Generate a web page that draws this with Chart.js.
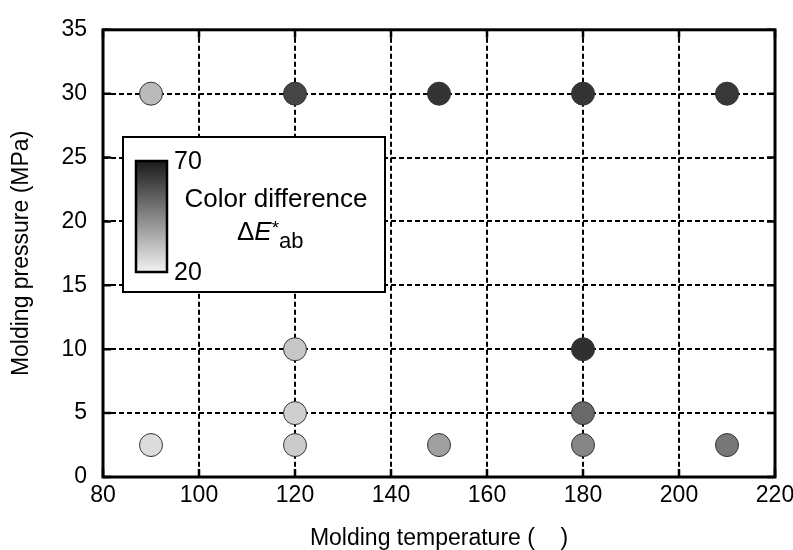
<!DOCTYPE html>
<html>
<head>
<meta charset="utf-8">
<script src="https://cdn.jsdelivr.net/npm/chart.js@4/dist/chart.umd.min.js"></script>
<style>
  html, body { margin: 0; padding: 0; background: #fff; }
  #wrap { width: 793px; height: 550px; }
</style>
</head>
<body>
<div id="wrap"><canvas id="chart" width="793" height="550"></canvas></div>
<script>
// molding conditions and measured colour difference
const temperatures = [90, 120, 150, 180, 210, 120, 180, 120, 180, 90, 120, 150, 180, 210];
const pressures    = [30, 30, 30, 30, 30, 10, 10, 5, 5, 2.5, 2.5, 2.5, 2.5, 2.5];
const colorDiff    = [33, 60, 64, 64, 63, 30, 65, 28, 51.5, 25, 29, 39, 45, 48.5];

const xTicks = [80, 100, 120, 140, 160, 180, 200, 220];
const yTicks = [0, 5, 10, 15, 20, 25, 30, 35];
const scaleMin = 20;
const scaleMax = 70;

const FONT = 'Arial, "Liberation Sans", sans-serif';

// grey level for a colour difference value (light = small, dark = large)
function greyFor(v) {
  const t = Math.max(0, Math.min(1, (v - scaleMin) / (scaleMax - scaleMin)));
  const g = Math.round(242 - t * 216);
  return `rgb(${g},${g},${g})`;
}

const points = temperatures.map((t, i) => ({ x: t, y: pressures[i] }));

// frame, inner ticks and the colour scale box
const framePlugin = {
  id: 'frame',
  afterDraw(chart) {
    const { ctx, chartArea: a, scales } = chart;
    ctx.save();
    ctx.strokeStyle = '#000';
    ctx.lineWidth = 2.5;
    ctx.beginPath();
    yTicks.forEach(v => {
      const y = scales.y.getPixelForValue(v);
      ctx.moveTo(a.left, y); ctx.lineTo(a.left + 8, y);
      ctx.moveTo(a.right, y); ctx.lineTo(a.right - 8, y);
    });
    xTicks.forEach(v => {
      const x = scales.x.getPixelForValue(v);
      ctx.moveTo(x, a.bottom); ctx.lineTo(x, a.bottom - 8);
      ctx.moveTo(x, a.top); ctx.lineTo(x, a.top + 8);
    });
    ctx.stroke();

    ctx.lineWidth = 3;
    ctx.strokeRect(a.left, a.top, a.right - a.left, a.bottom - a.top);

    // colour scale box
    const bx = 123, by = 137, bw = 262, bh = 155;
    ctx.fillStyle = '#fff';
    ctx.fillRect(bx, by, bw, bh);
    ctx.lineWidth = 2;
    ctx.strokeRect(bx, by, bw, bh);

    const gx = 136, gy = 161, gw = 31, gh = 111;
    const grad = ctx.createLinearGradient(0, gy, 0, gy + gh);
    grad.addColorStop(0, greyFor(scaleMax));
    grad.addColorStop(1, greyFor(scaleMin));
    ctx.fillStyle = grad;
    ctx.fillRect(gx, gy, gw, gh);
    ctx.lineWidth = 2.5;
    ctx.strokeRect(gx, gy, gw, gh);

    ctx.fillStyle = '#000';
    ctx.textBaseline = 'alphabetic';
    ctx.textAlign = 'left';
    ctx.font = `25px ${FONT}`;
    ctx.fillText(String(scaleMax), 174, 169);
    ctx.fillText(String(scaleMin), 174, 280);

    ctx.font = `26px ${FONT}`;
    ctx.textAlign = 'center';
    ctx.fillText('Color difference', 276, 207);

    // ΔE*ab
    ctx.textAlign = 'left';
    let x = 237;
    ctx.font = `26px ${FONT}`;
    ctx.fillText('\u0394', x, 240);
    x += ctx.measureText('\u0394').width;
    ctx.font = `italic 26px ${FONT}`;
    ctx.fillText('E', x, 240);
    x += ctx.measureText('E').width;
    ctx.font = `19px ${FONT}`;
    ctx.fillText('*', x, 234);
    x += ctx.measureText('*').width;
    ctx.font = `22px ${FONT}`;
    ctx.fillText('ab', x, 248);
    ctx.restore();
  }
};

new Chart(document.getElementById('chart'), {
  type: 'scatter',
  data: {
    datasets: [{
      data: points,
      pointRadius: 11.5,
      pointHoverRadius: 11.5,
      pointBackgroundColor: colorDiff.map(greyFor),
      pointBorderColor: '#333',
      pointBorderWidth: 1
    }]
  },
  options: {
    responsive: false,
    animation: false,
    events: [],
    layout: { padding: { top: 29, right: 18, bottom: 0, left: 0 } },
    plugins: {
      legend: { display: false },
      tooltip: { enabled: false }
    },
    scales: {
      x: {
        type: 'linear',
        min: 80,
        max: 220,
        afterBuildTicks: s => { s.ticks = xTicks.map(v => ({ value: v })); },
        afterFit: s => { s.height = 73; s.paddingLeft = 0; s.paddingRight = 0; },
        ticks: { color: '#000', font: { family: FONT, size: 23 }, padding: 5, maxRotation: 0 },
        grid: { color: '#000', lineWidth: 2, drawTicks: false },
        border: { display: false, dash: [5, 3] },
        title: {
          display: true,
          text: 'Molding temperature (    )',
          color: '#000',
          font: { family: FONT, size: 23 },
          padding: { top: 0, bottom: -2 }
        }
      },
      y: {
        type: 'linear',
        min: 0,
        max: 35,
        afterBuildTicks: s => { s.ticks = yTicks.map(v => ({ value: v })); },
        afterFit: s => { s.width = 103; },
        ticks: { color: '#000', font: { family: FONT, size: 23 }, padding: 16 },
        grid: { color: '#000', lineWidth: 2, drawTicks: false },
        border: { display: false, dash: [5, 3] },
        title: {
          display: true,
          text: 'Molding pressure (MPa)',
          color: '#000',
          font: { family: FONT, size: 23 },
          padding: { top: 8, bottom: 0 }
        }
      }
    }
  },
  plugins: [framePlugin]
});
</script>
</body>
</html>
